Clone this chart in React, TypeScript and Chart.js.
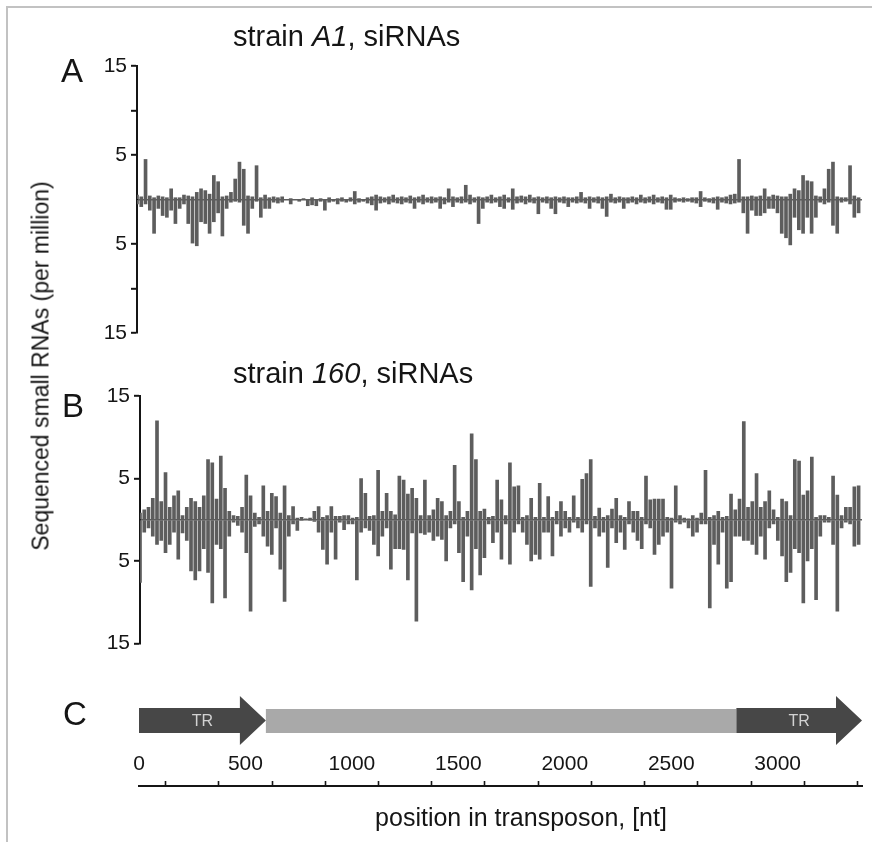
import React, { useEffect, useRef } from 'react';
import { Chart, registerables } from 'chart.js';

Chart.register(...registerables);

// ---- data: small-RNA counts (per million) in 20-nt bins along the transposon ----
const BIN_NT = 20;
const X_MAX = 3396;

// strain A1 — sense (up) and antisense (down)
const aSense = [
  0.5, 0.3, 4.5, 0.4, 0.2, 0.4, 0.3, 0.2, 1.2, 0.2,
  0.2, 0.5, 0.4, 0.3, 0.8, 1.2, 1.0, 0.6, 2.7, 2.0,
  0.3, 0.4, 0.8, 2.3, 4.2, 3.4, 0.4, 0.3, 3.8, 0.2,
  0.5, 0.2, 0.3, 0.2, 0.3, 0, 0.1, 0, 0, 0.1,
  0, 0.2, 0, 0.1, 0, 0.2, 0, 0.1, 0.2, 0,
  0.2, 0.9, 0.1, 0, 0.2, 0.3, 0.5, 0.3, 0.2, 0.3,
  0.5, 0.2, 0.3, 0.2, 0.4, 0.2, 0.3, 0.5, 0.2, 0.3,
  0.2, 0.3, 0.2, 1.2, 0.3, 0.2, 0.3, 1.6, 0.5, 0.2,
  0.3, 0.2, 0.3, 0.5, 0.2, 0.3, 0.5, 0.2, 1.2, 0.3,
  0.4, 0.3, 0.5, 0.2, 0.3, 0.2, 0.3, 0.2, 0.3, 0.2,
  0.3, 0.2, 0.2, 0.3, 0.8, 0.2, 0.3, 0.2, 0.3, 0.2,
  0.3, 0.6, 0.2, 0.3, 0.2, 0.2, 0.3, 0.2, 0.5, 0.2,
  0.3, 0.5, 0.2, 0.3, 0.2, 0.5, 0.2, 0.1, 0.2, 0.1,
  0.2, 0.2, 0.9, 0.2, 0.1, 0.2, 0.3, 0.2, 0.3, 0.5,
  0.6, 4.5, 0.3, 0.3, 0.4, 0.3, 0.4, 1.2, 0.3, 0.5,
  0.4, 0.3, 0.3, 0.6, 1.2, 1.0, 2.7, 2.1, 2.0, 0.4,
  0.3, 1.2, 3.4, 4.2, 0.3, 0.2, 0.2, 3.8, 0.4, 0.2,
];
const aAnti = [
  -0.5, -0.8, -0.5, -1.2, -3.8, -1.0, -1.8, -2.0, -1.2, -2.7,
  -1.0, -0.5, -2.7, -4.9, -5.2, -2.5, -2.7, -3.8, -2.5, -1.5,
  -4.1, -1.0, -0.3, -0.2, -0.3, -2.9, -3.8, -1.0, -0.2, -2.0,
  -1.0, -1.0, -0.3, -0.4, -0.3, 0, -0.5, 0, -0.2, 0,
  -0.7, -0.6, -0.7, -0.2, -1.2, -0.3, -0.2, -0.5, -0.2, -0.3,
  -0.2, -0.5, -0.3, -0.2, -0.4, -0.6, -1.2, -0.4, -0.3, -0.5,
  -0.3, -0.4, -0.5, -0.3, -0.4, -1.0, -0.3, -0.5, -0.3, -0.4,
  -0.3, -1.0, -0.5, -0.3, -0.8, -0.3, -0.4, -0.3, -0.5, -0.3,
  -2.7, -1.0, -0.3, -0.4, -0.3, -0.8, -1.0, -0.3, -1.1, -0.4,
  -0.3, -0.5, -0.3, -0.4, -1.6, -0.3, -0.4, -1.0, -1.6, -0.3,
  -0.4, -0.8, -0.3, -0.4, -0.3, -0.4, -1.0, -0.3, -0.4, -1.0,
  -1.9, -0.3, -0.4, -0.3, -1.0, -0.4, -0.3, -0.5, -0.3, -0.4,
  -0.3, -0.5, -0.3, -0.4, -1.1, -1.1, -0.3, -0.2, -0.3, -0.2,
  -0.3, -0.4, -0.8, -0.2, -0.3, -0.4, -1.1, -0.3, -0.4, -0.5,
  -0.4, -0.3, -1.5, -3.8, -1.2, -1.8, -1.8, -1.5, -1.0, -1.0,
  -1.5, -3.8, -4.3, -5.1, -2.0, -3.4, -3.8, -2.0, -3.8, -2.0,
  -0.3, -0.5, -0.3, -2.9, -3.8, -0.3, -0.2, -0.5, -2.0, -1.5,
];

// strain 160 — sense (up) and antisense (down)
const bSense = [
  0.8, 1.2, 1.5, 2.6, 12.0, 2.2, 5.7, 1.5, 2.9, 3.5,
  0.5, 1.5, 2.6, 2.2, 1.5, 2.9, 7.3, 6.9, 2.5, 7.7,
  3.8, 1.0, 0.5, 0.4, 1.5, 5.4, 2.9, 0.8, 0.3, 4.1,
  1.0, 3.2, 2.8, 0.8, 4.1, 0.5, 1.6, 0.2, 0.3, 0.1,
  0.2, 1.0, 1.6, 0.3, 0.5, 1.6, 0.4, 0.4, 0.5, 0.5,
  0.2, 0.3, 5.0, 3.2, 0.4, 0.5, 6.0, 1.0, 3.2, 1.0,
  0.6, 5.3, 4.8, 3.1, 3.8, 2.6, 0.5, 4.8, 0.5, 1.2,
  2.6, 2.2, 0.5, 1.0, 6.6, 2.2, 0.3, 1.0, 10.4, 7.3,
  1.0, 1.3, 0.3, 0.4, 4.8, 2.4, 0.5, 6.9, 4.0, 4.1,
  0.3, 0.5, 2.6, 0.3, 4.4, 0.3, 2.8, 0.3, 1.0, 2.2,
  1.0, 0.3, 2.9, 0.3, 4.9, 5.6, 7.3, 0.4, 1.4, 0.3,
  0.5, 1.3, 2.6, 0.5, 0.3, 2.2, 1.0, 1.0, 0.3, 5.3,
  2.4, 2.5, 2.5, 2.5, 0.3, 0.2, 4.1, 0.5, 0.2, 0.1,
  0.5, 0.2, 0.8, 6.0, 0.3, 0.5, 1.0, 0.3, 0.4, 3.1,
  1.2, 2.5, 11.9, 1.5, 2.2, 5.6, 1.5, 2.2, 3.5, 1.2,
  0.3, 2.5, 2.2, 0.5, 7.3, 7.1, 3.0, 3.5, 7.6, 0.3,
  0.5, 0.5, 0.3, 5.3, 3.0, 0.5, 1.5, 1.5, 4.0, 4.1,
];
const bAnti = [
  -7.6, -1.5, -1.0, -2.0, -3.0, -2.5, -4.0, -3.0, -1.5, -4.8,
  -1.6, -2.5, -6.2, -7.3, -6.2, -3.5, -6.4, -10.1, -3.0, -3.5,
  -9.5, -2.0, -0.3, -0.7, -1.5, -4.0, -11.1, -0.8, -0.5, -2.0,
  -3.2, -4.2, -1.0, -6.0, -9.9, -2.0, -0.5, -1.3, -0.1, 0,
  -0.1, -0.2, -1.5, -3.6, -5.4, -1.5, -4.8, -0.3, -1.2, -0.5,
  -0.5, -7.3, -1.5, -1.0, -1.3, -3.0, -4.4, -2.0, -1.0, -6.0,
  -3.5, -3.5, -3.6, -7.3, -1.6, -12.3, -1.6, -1.8, -1.5, -2.5,
  -2.0, -2.4, -5.0, -1.0, -0.5, -4.0, -7.5, -2.0, -8.5, -3.5,
  -6.7, -4.6, -0.5, -2.8, -1.5, -4.8, -0.5, -5.4, -1.5, -0.5,
  -1.5, -3.0, -5.0, -4.2, -4.8, -1.5, -1.5, -4.4, -0.5, -2.0,
  -1.0, -1.5, -0.3, -1.0, -1.5, -0.5, -8.1, -1.0, -2.0, -1.5,
  -5.8, -1.0, -2.8, -1.5, -3.6, -0.5, -1.5, -2.5, -3.5, -0.5,
  -1.0, -4.2, -3.0, -2.0, -1.5, -8.3, -0.3, -0.5, -0.3, -1.0,
  -2.0, -1.5, -0.5, -0.5, -10.7, -3.0, -5.4, -1.5, -8.3, -7.5,
  -2.0, -2.0, -2.5, -2.5, -3.0, -4.2, -2.0, -4.8, -1.0, -0.5,
  -2.5, -4.4, -7.5, -6.4, -3.5, -4.0, -10.1, -5.0, -3.5, -9.7,
  -2.0, -0.3, -0.3, -3.0, -11.1, -1.0, -0.3, -0.5, -3.2, -3.0,
];

const positions = aSense.map((_, i) => i * BIN_NT);

// axis ticks
const yTicksA = [-15, -10, -5, 0, 5, 10, 15];
const yTicksB = [-15, -5, 0, 5, 15];
const yLabelled = [-15, -5, 5, 15];
const xTickValues = [0, 250, 500, 750, 1000, 1250, 1500, 1750, 2000, 2250, 2500, 2750, 3000, 3250];
const xLabelled = [0, 500, 1000, 1500, 2000, 2500, 3000];

// transposon map (panel C)
const segStart = [0, 596, 2806];
const segEnd = [596, 2806, X_MAX];
const segName = ['TR', '', 'TR'];
const segArrow = [true, false, true];
const segColor = ['#474747', '#a9a9a9', '#474747'];

const FONT = '"Liberation Sans", Arial, Helvetica, sans-serif';
const BAR = '#5d5d5d';
const INK = '#151515';

type PanelProps = {
  sense: number[];
  anti: number[];
  yTicks: number[];
  axisLeft: number;
  top: number;
  height: number;
  padTop: number;
  padBottom: number;
};

function SpikePanel({ sense, anti, yTicks, axisLeft, top, height, padTop, padBottom }: PanelProps) {
  const ref = useRef<HTMLCanvasElement>(null);
  useEffect(() => {
    const chart = new Chart(ref.current as HTMLCanvasElement, {
      type: 'bar',
      data: {
        datasets: [
          {
            data: positions.map((x, i) => ({ x, y: sense[i] })),
            backgroundColor: BAR,
            barThickness: 3,
            grouped: false,
          } as any,
          {
            data: positions.map((x, i) => ({ x, y: anti[i] })),
            backgroundColor: BAR,
            barThickness: 3,
            grouped: false,
          } as any,
        ],
      },
      options: {
        animation: false,
        responsive: false,
        maintainAspectRatio: false,
        devicePixelRatio: 1,
        layout: { padding: { left: 0, right: 10, top: padTop, bottom: padBottom } },
        plugins: { legend: { display: false }, tooltip: { enabled: false }, title: { display: false } },
        scales: {
          x: { type: 'linear', min: 0, max: X_MAX, display: false, offset: false },
          y: {
            type: 'linear',
            min: -15,
            max: 15,
            afterFit: (s: any) => {
              s.width = axisLeft;
            },
            afterBuildTicks: (s: any) => {
              s.ticks = yTicks.map((v) => ({ value: v }));
            },
            ticks: {
              autoSkip: false,
              padding: 4,
              color: INK,
              font: { family: FONT, size: 21 },
              callback: (v: any) => (yLabelled.includes(Number(v)) ? String(Math.abs(Number(v))) : ''),
            },
            grid: {
              drawOnChartArea: true,
              drawTicks: true,
              tickLength: 6,
              tickWidth: 2,
              lineWidth: 1.6,
              color: (c: any) => (c.tick && c.tick.value === 0 ? BAR : 'rgba(0,0,0,0)'),
              tickColor: (c: any) => (c.tick && c.tick.value === 0 ? 'rgba(0,0,0,0)' : INK),
            },
            border: { display: true, color: INK, width: 2 },
          },
        },
      } as any,
    });
    return () => chart.destroy();
  }, []);
  return (
    <canvas
      ref={ref}
      width={872}
      height={height}
      style={{ position: 'absolute', left: 0, top, width: 872, height }}
    />
  );
}

const arrowPlugin = {
  id: 'transposonMap',
  afterDraw(chart: any) {
    const ctx = chart.ctx as CanvasRenderingContext2D;
    const xs = chart.scales.x;
    const bodyTop = 28;
    const bodyBot = 53;
    const headTop = 16;
    const headBot = 65;
    const mid = (bodyTop + bodyBot) / 2;
    const head = 26;
    ctx.save();
    for (let i = 0; i < segStart.length; i++) {
      const x0 = xs.getPixelForValue(segStart[i]);
      const x1 = xs.getPixelForValue(segEnd[i]);
      ctx.fillStyle = segColor[i];
      ctx.beginPath();
      if (segArrow[i]) {
        ctx.moveTo(x0, bodyTop);
        ctx.lineTo(x1 - head, bodyTop);
        ctx.lineTo(x1 - head, headTop);
        ctx.lineTo(x1, mid);
        ctx.lineTo(x1 - head, headBot);
        ctx.lineTo(x1 - head, bodyBot);
        ctx.lineTo(x0, bodyBot);
      } else {
        ctx.rect(x0, bodyTop + 1, x1 - x0, bodyBot - bodyTop - 1);
      }
      ctx.closePath();
      ctx.fill();
      if (segName[i]) {
        ctx.fillStyle = '#d2d2d2';
        ctx.font = `16px ${FONT}`;
        ctx.textAlign = 'center';
        ctx.textBaseline = 'middle';
        ctx.fillText(segName[i], (x0 + x1) / 2, mid + 1);
      }
    }
    ctx.restore();
  },
};

function MapPanel() {
  const ref = useRef<HTMLCanvasElement>(null);
  useEffect(() => {
    const chart = new Chart(ref.current as HTMLCanvasElement, {
      type: 'bar',
      data: { datasets: [] },
      options: {
        animation: false,
        responsive: false,
        maintainAspectRatio: false,
        devicePixelRatio: 1,
        layout: { padding: { left: 139, right: 10, top: 46, bottom: 10 } },
        plugins: { legend: { display: false }, tooltip: { enabled: false } },
        scales: {
          x: {
            type: 'linear',
            position: 'top',
            min: 0,
            max: X_MAX,
            offset: false,
            afterFit: (s: any) => {
              s.height = 60;
            },
            afterBuildTicks: (s: any) => {
              s.ticks = xTickValues.map((v) => ({ value: v }));
            },
            ticks: {
              autoSkip: false,
              maxRotation: 0,
              padding: 4,
              color: INK,
              font: { family: FONT, size: 21 },
              callback: (v: any) => (xLabelled.includes(Number(v)) ? String(v) : ''),
            },
            grid: { drawOnChartArea: false, drawTicks: true, tickLength: 5, tickWidth: 1.6, tickColor: INK },
            border: { display: true, color: INK, width: 2 },
          },
          y: { display: false, min: 0, max: 1 },
        },
      } as any,
      plugins: [arrowPlugin],
    });
    return () => chart.destroy();
  }, []);
  return (
    <canvas
      ref={ref}
      width={872}
      height={162}
      style={{ position: 'absolute', left: 0, top: 680, width: 872, height: 162 }}
    />
  );
}

const abs = (extra: React.CSSProperties): React.CSSProperties => ({
  position: 'absolute',
  whiteSpace: 'nowrap',
  lineHeight: 1,
  color: INK,
  ...extra,
});

export default function App() {
  return (
    <div
      style={{
        position: 'absolute',
        left: 0,
        top: 0,
        width: 872,
        height: 842,
        overflow: 'hidden',
        background: '#ffffff',
        fontFamily: FONT,
      }}
    >
      <div
        style={{
          position: 'absolute',
          left: 6,
          top: 6,
          width: 1000,
          height: 1000,
          borderLeft: '2px solid #c2c2c2',
          borderTop: '2px solid #c2c2c2',
        }}
      />
      <SpikePanel sense={aSense} anti={aAnti} yTicks={yTicksA} axisLeft={137} top={40} height={310} padTop={26} padBottom={17} />
      <SpikePanel sense={bSense} anti={bAnti} yTicks={yTicksB} axisLeft={140} top={370} height={290} padTop={26} padBottom={16} />
      <MapPanel />

      <div style={abs({ left: 233, top: 22, fontSize: 29 })}>
        strain <i>A1</i>, siRNAs
      </div>
      <div style={abs({ left: 233, top: 359, fontSize: 29 })}>
        strain <i>160</i>, siRNAs
      </div>
      <div style={abs({ left: 61, top: 54, fontSize: 33 })}>A</div>
      <div style={abs({ left: 62, top: 389, fontSize: 33 })}>B</div>
      <div style={abs({ left: 63, top: 697, fontSize: 33 })}>C</div>
      <div
        style={abs({
          left: 41,
          top: 366,
          fontSize: 23,
          transform: 'translate(-50%, -50%) rotate(-90deg)',
        })}
      >
        Sequenced small RNAs (per million)
      </div>
      <div style={abs({ left: 521, top: 817, fontSize: 25, transform: 'translate(-50%, -50%)' })}>
        position in transposon, [nt]
      </div>
    </div>
  );
}
